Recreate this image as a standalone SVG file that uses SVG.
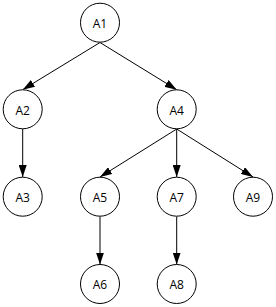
<svg xmlns="http://www.w3.org/2000/svg" width="276" height="307" viewBox="0 0 276 307">
<style>
.n circle{fill:#fff;stroke:#000;stroke-width:1}
.n text{font-family:"Open Sans","DejaVu Sans",sans-serif;font-size:12px;fill:#000;text-anchor:middle;dominant-baseline:central}
.e line{stroke:#000;stroke-width:1;marker-end:url(#arr)}
</style>
<defs>
<marker id="arr" viewBox="0 0 12 8" refX="12" refY="4" markerWidth="12" markerHeight="8" markerUnits="userSpaceOnUse" orient="auto">
<path d="M0,0 L12,4 L0,8 Z" fill="#000"/>
</marker>
</defs>
<rect width="276" height="307" fill="#fff"/>
<g id="connectors" class="e">
<line x1="100" y1="42.5" x2="22.7" y2="89.7"/>
<line x1="100" y1="42.5" x2="176.7" y2="89.7"/>
<line x1="22.7" y1="129" x2="22.7" y2="177"/>
<line x1="176.7" y1="129" x2="100" y2="177"/>
<line x1="176.7" y1="129" x2="176.7" y2="177"/>
<line x1="176.7" y1="129" x2="253" y2="177"/>
<line x1="100" y1="216.5" x2="100" y2="264.5"/>
<line x1="176.7" y1="216.5" x2="176.7" y2="264.5"/>
</g>
<g id="A1" class="n"><circle cx="100" cy="22.7" r="19.5"/><text x="100" y="23.5">A1</text></g>
<g id="A2" class="n"><circle cx="22.7" cy="109.3" r="19.5"/><text x="22.7" y="110">A2</text></g>
<g id="A4" class="n"><circle cx="176.7" cy="109.3" r="19.5"/><text x="176.7" y="110">A4</text></g>
<g id="A3" class="n"><circle cx="22.7" cy="196.7" r="19.5"/><text x="22.7" y="197.5">A3</text></g>
<g id="A5" class="n"><circle cx="100" cy="196.7" r="19.5"/><text x="100" y="197.5">A5</text></g>
<g id="A7" class="n"><circle cx="176.7" cy="196.7" r="19.5"/><text x="176.7" y="197.5">A7</text></g>
<g id="A9" class="n"><circle cx="253" cy="196.7" r="19.5"/><text x="253" y="197.5">A9</text></g>
<g id="A6" class="n"><circle cx="100" cy="284" r="19.5"/><text x="100" y="284.8">A6</text></g>
<g id="A8" class="n"><circle cx="176.7" cy="284" r="19.5"/><text x="176.7" y="284.8">A8</text></g>
</svg>
